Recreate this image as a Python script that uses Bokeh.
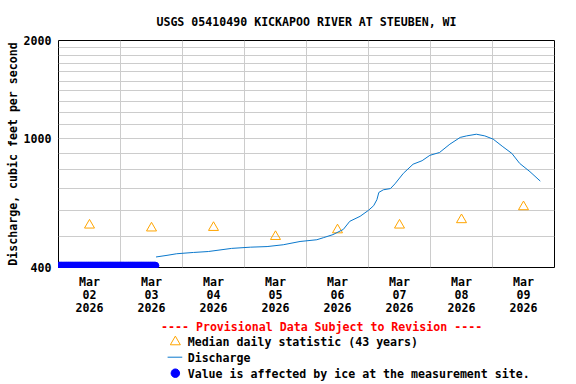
import pandas as pd
from bokeh.plotting import figure
from bokeh.layouts import column
from bokeh.models import Range1d, FixedTicker, NumeralTickFormatter
from bokeh.core.properties import value
from bokeh.embed import file_html
from bokeh.resources import INLINE

# ---------------- data ----------------
title_text = "USGS 05410490 KICKAPOO RIVER AT STEUBEN, WI"
y_axis_text = "Discharge, cubic feet per second"
provisional_text = "---- Provisional Data Subject to Revision ----"
legend_median = "Median daily statistic (43 years)"
legend_discharge = "Discharge"
legend_ice = "Value is affected by ice at the measurement site."

range_start = "2026-03-02 00:00"
range_end = "2026-03-10 00:00"

day_midnights = ["2026-03-03", "2026-03-04", "2026-03-05", "2026-03-06",
                 "2026-03-07", "2026-03-08", "2026-03-09"]
day_label_times = ["2026-03-02 12:00", "2026-03-03 12:00", "2026-03-04 12:00",
                   "2026-03-05 12:00", "2026-03-06 12:00", "2026-03-07 12:00",
                   "2026-03-08 12:00", "2026-03-09 12:00"]
day_labels = ["Mar\n02\n2026", "Mar\n03\n2026", "Mar\n04\n2026", "Mar\n05\n2026",
              "Mar\n06\n2026", "Mar\n07\n2026", "Mar\n08\n2026", "Mar\n09\n2026"]

y_ticks = [400, 1000, 2000]
y_grid_values = [500, 600, 700, 800, 900, 1000, 1100, 1200, 1300, 1400,
                 1500, 1600, 1700, 1800, 1900]

discharge_times = [
    "2026-03-03 13:45", "2026-03-03 18:00", "2026-03-03 21:45", "2026-03-04 04:15",
    "2026-03-04 10:00", "2026-03-04 19:00", "2026-03-05 02:15", "2026-03-05 08:45",
    "2026-03-05 15:00", "2026-03-05 21:30", "2026-03-06 04:00", "2026-03-06 06:30",
    "2026-03-06 10:15", "2026-03-06 14:15", "2026-03-06 16:45", "2026-03-06 20:45",
    "2026-03-07 00:00", "2026-03-07 02:00", "2026-03-07 03:15", "2026-03-07 04:00",
    "2026-03-07 05:45", "2026-03-07 08:30", "2026-03-07 10:15", "2026-03-07 13:30",
    "2026-03-07 17:15", "2026-03-07 20:45", "2026-03-07 23:45", "2026-03-08 03:30",
    "2026-03-08 07:30", "2026-03-08 11:30", "2026-03-08 14:00", "2026-03-08 17:45",
    "2026-03-08 21:00", "2026-03-09 00:15", "2026-03-09 04:00", "2026-03-09 07:30",
    "2026-03-09 10:30", "2026-03-09 14:30", "2026-03-09 18:30"]
discharge_values = [
    431, 436, 441, 445,
    448, 458, 462, 464,
    470, 481, 487, 494,
    505, 524, 555, 575,
    600, 620, 647, 681,
    694, 700, 724, 780,
    832, 853, 886, 904,
    959, 1006, 1017, 1029,
    1017, 994, 942, 898,
    837, 789, 738]

median_times = day_label_times
median_values = [540, 529, 531, 498, 522, 540, 561, 615]

ice_start = "2026-03-02 00:00"
ice_end = "2026-03-03 13:30"
ice_value = 405

# ---------------- helpers ----------------
t0 = pd.Timestamp(range_start)


def hours(t):
    return (pd.Timestamp(t) - t0) / pd.Timedelta(hours=1)


FONT = "DejaVu Sans Mono"
FSIZE = "11.6px"
ORANGE = "#FFA500"
LINE_BLUE = "#0A78CC"
ICE_BLUE = "#0000FF"

x_end = hours(range_end)

# ---------------- main plot ----------------
p = figure(width=576, height=318,
           x_range=Range1d(0, x_end), y_range=Range1d(400, 2000),
           y_axis_type="log", output_backend="svg", toolbar_location=None,
           min_border_left=58, min_border_right=22,
           min_border_top=39, min_border_bottom=50)
p.title.text = title_text
p.title.align = "center"
p.title.text_font = FONT
p.title.text_font_style = "bold"
p.title.text_font_size = FSIZE
p.title.text_color = "black"
p.title.standoff = 24
p.background_fill_color = "white"
p.border_fill_color = "white"
p.outline_line_color = "black"
p.outline_line_width = 1
p.outline_line_alpha = 1

# grids
p.xgrid.ticker = FixedTicker(ticks=[hours(t) for t in day_midnights])
p.ygrid.ticker = FixedTicker(ticks=y_grid_values)
for g in (p.xgrid, p.ygrid):
    g.grid_line_color = "#CCCCCC"
    g.grid_line_width = 1

# axes
p.xaxis.ticker = FixedTicker(ticks=[hours(t) for t in day_label_times])
p.xaxis.major_label_overrides = {hours(t): lab for t, lab in zip(day_label_times, day_labels)}
p.yaxis.ticker = FixedTicker(ticks=y_ticks)
p.yaxis.formatter = NumeralTickFormatter(format="0")
for ax in (p.xaxis, p.yaxis):
    ax.axis_line_color = None
    ax.major_tick_line_color = None
    ax.minor_tick_line_color = None
    ax.major_tick_in = 0
    ax.major_tick_out = 0
    ax.minor_tick_in = 0
    ax.minor_tick_out = 0
    ax.major_label_text_font = FONT
    ax.major_label_text_font_style = "bold"
    ax.major_label_text_font_size = FSIZE
    ax.major_label_text_color = "black"
p.xaxis.major_label_standoff = 7
p.xaxis.major_label_text_line_height = 0.96
p.yaxis.major_label_standoff = 7
p.yaxis.axis_label = y_axis_text
p.yaxis.axis_label_standoff = 1
p.yaxis.axis_label_text_font = FONT
p.yaxis.axis_label_text_font_style = "bold"
p.yaxis.axis_label_text_font_size = FSIZE
p.yaxis.axis_label_text_color = "black"

# glyphs
ice_times = pd.date_range(ice_start, ice_end, freq="15min")
ice_x = [hours(t) for t in ice_times]
p.scatter(ice_x, [ice_value] * len(ice_x), marker="circle", size=7,
          fill_color=ICE_BLUE, line_color=ICE_BLUE)
p.scatter([hours(t) for t in median_times], median_values,
          marker="triangle", size=10, fill_color=None,
          line_color=ORANGE, line_width=1)
p.line([hours(t) for t in discharge_times], discharge_values,
       line_color=LINE_BLUE, line_width=1)

# ---------------- legend strip (pixel coordinates, y downwards) ----------------
leg_h = 66
q = figure(width=576, height=leg_h, x_range=Range1d(0, 576), y_range=Range1d(leg_h, 0),
           output_backend="svg", toolbar_location=None,
           x_axis_location=None, y_axis_location=None,
           min_border_left=0, min_border_right=0, min_border_top=0, min_border_bottom=0)
q.grid.visible = False
q.outline_line_color = None
q.background_fill_color = "white"
q.border_fill_color = "white"

text_style = dict(text_font=value(FONT), text_font_style="bold",
                  text_font_size=value(FSIZE), text_baseline="alphabetic")
q.text(x=[305.5], y=[8.9], text=[provisional_text], text_align="center",
       text_color="#FF0000", **text_style)
q.text(x=[150, 150, 150], y=[23, 39, 55],
       text=[legend_median, legend_discharge, legend_ice], text_align="left",
       text_color="black", **text_style)
q.scatter([135.7], [23.4], marker="triangle", size=10, fill_color=None,
          line_color=ORANGE, line_width=1)
q.line([126.7, 143.7], [38.7, 38.7], line_color=LINE_BLUE, line_width=1)
q.scatter([135.7], [54.7], marker="circle", size=8.5, fill_color=ICE_BLUE,
          line_color=ICE_BLUE)

layout = column(p, q, spacing=0)
open("out.html", "w").write(file_html(layout, INLINE))
